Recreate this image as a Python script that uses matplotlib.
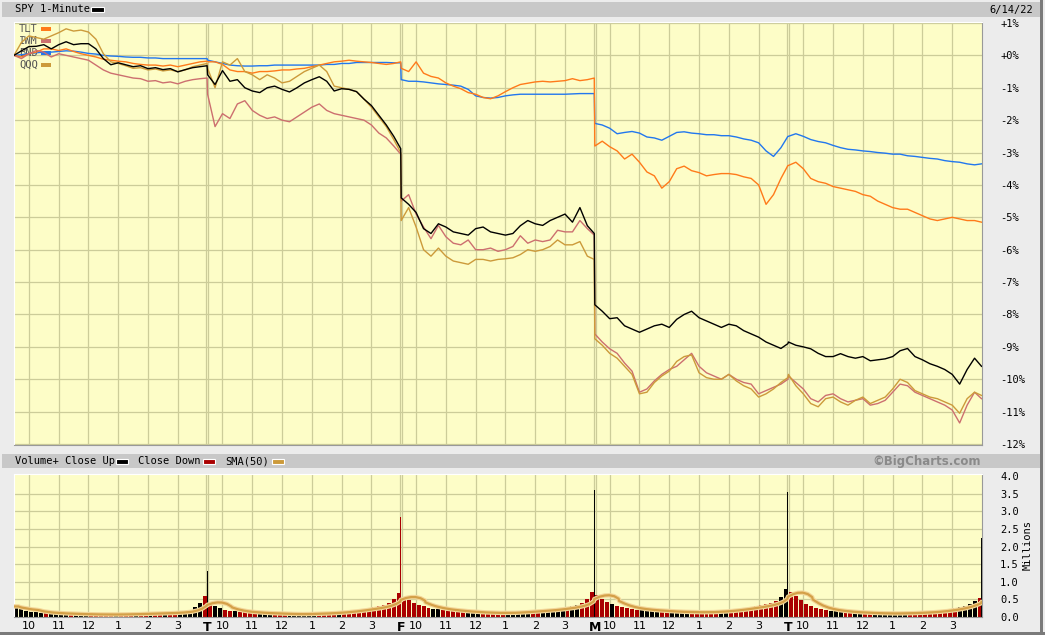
import numpy as np
import pandas as pd
import matplotlib
matplotlib.use("Agg")
import matplotlib.pyplot as plt
from matplotlib.patches import Rectangle

# % change vs first print, sampled every 15 min + last minute of each session
spy = [
    [0.0, 0.14, 0.27, 0.28, 0.33, 0.2, 0.33, 0.42, 0.33, 0.36, 0.36, 0.2, -0.1, -0.29, -0.23, -0.29, -0.35, -0.32, -0.41, -0.38, -0.44, -0.41, -0.51, -0.44, -0.38, -0.35, -0.32],
    [-0.6, -0.9, -0.47, -0.8, -0.75, -1.0, -1.1, -1.15, -1.0, -0.95, -1.05, -1.13, -1.0, -0.85, -0.75, -0.66, -0.8, -1.1, -1.03, -1.05, -1.12, -1.35, -1.55, -1.85, -2.15, -2.5, -2.88],
    [-4.4, -4.6, -4.85, -5.35, -5.5, -5.2, -5.3, -5.45, -5.5, -5.55, -5.35, -5.3, -5.45, -5.5, -5.55, -5.5, -5.26, -5.1, -5.2, -5.25, -5.1, -5.0, -4.9, -5.15, -4.7, -5.26, -5.5],
    [-7.7, -7.9, -8.13, -8.1, -8.35, -8.45, -8.55, -8.45, -8.35, -8.3, -8.4, -8.15, -8.0, -7.9, -8.1, -8.2, -8.3, -8.4, -8.3, -8.35, -8.5, -8.6, -8.7, -8.85, -8.95, -9.05, -8.9],
    [-8.85, -8.95, -9.0, -9.06, -9.2, -9.3, -9.3, -9.21, -9.3, -9.35, -9.3, -9.43, -9.4, -9.37, -9.3, -9.12, -9.05, -9.3, -9.4, -9.52, -9.6, -9.7, -9.85, -10.15, -9.7, -9.35, -9.6],
]
qqq = [
    [0.0, 0.4, 0.6, 0.55, 0.5, 0.6, 0.7, 0.82, 0.75, 0.78, 0.72, 0.5, 0.05, -0.2, -0.25, -0.32, -0.4, -0.38, -0.45, -0.42, -0.48, -0.45, -0.5, -0.45, -0.35, -0.3, -0.25],
    [-0.4, -1.0, -0.2, -0.3, -0.1, -0.5, -0.6, -0.75, -0.6, -0.7, -0.85, -0.8, -0.65, -0.5, -0.4, -0.3, -0.5, -0.95, -1.0, -1.05, -1.12, -1.35, -1.6, -1.9, -2.2, -2.6, -3.0],
    [-5.1, -4.7, -5.3, -6.0, -6.2, -5.95, -6.2, -6.35, -6.4, -6.45, -6.3, -6.3, -6.35, -6.3, -6.28, -6.25, -6.15, -6.0, -6.05, -6.0, -5.9, -5.7, -5.85, -5.85, -5.75, -6.2, -6.3],
    [-8.75, -8.95, -9.2, -9.35, -9.6, -9.85, -10.45, -10.4, -10.1, -9.9, -9.75, -9.45, -9.3, -9.25, -9.8, -9.95, -10.0, -10.0, -9.85, -10.05, -10.2, -10.3, -10.55, -10.45, -10.3, -10.1, -9.95],
    [-9.85, -10.2, -10.45, -10.75, -10.85, -10.6, -10.55, -10.7, -10.8, -10.65, -10.55, -10.75, -10.65, -10.55, -10.3, -10.0, -10.1, -10.35, -10.45, -10.55, -10.6, -10.7, -10.8, -11.05, -10.6, -10.4, -10.5],
]
iwm = [
    [0.0, -0.1, 0.05, 0.15, 0.1, -0.05, 0.05, 0.0, -0.05, -0.1, -0.15, -0.3, -0.45, -0.55, -0.6, -0.65, -0.7, -0.72, -0.8, -0.78, -0.85, -0.82, -0.88, -0.8, -0.75, -0.72, -0.7],
    [-1.2, -2.2, -1.8, -1.95, -1.5, -1.4, -1.7, -1.85, -1.95, -1.9, -2.0, -2.05, -1.9, -1.75, -1.6, -1.5, -1.7, -1.8, -1.85, -1.9, -1.95, -2.0, -2.15, -2.4, -2.55, -2.8, -3.05],
    [-4.5, -4.3, -4.9, -5.3, -5.66, -5.25, -5.6, -5.8, -5.85, -5.7, -6.0, -6.0, -5.95, -6.05, -6.0, -5.9, -5.57, -5.8, -5.7, -5.75, -5.7, -5.4, -5.45, -5.45, -5.1, -5.35, -5.55],
    [-8.6, -8.85, -9.06, -9.2, -9.5, -9.75, -10.4, -10.3, -10.05, -9.85, -9.7, -9.6, -9.4, -9.2, -9.6, -9.8, -9.9, -10.0, -9.85, -10.0, -10.1, -10.15, -10.45, -10.35, -10.25, -10.15, -10.0],
    [-9.9, -10.1, -10.3, -10.6, -10.7, -10.5, -10.45, -10.6, -10.7, -10.65, -10.6, -10.8, -10.75, -10.65, -10.4, -10.15, -10.2, -10.4, -10.5, -10.6, -10.7, -10.8, -10.95, -11.35, -10.8, -10.4, -10.6],
]
tlt = [
    [0.0, -0.05, 0.05, 0.1, 0.2, 0.2, 0.15, 0.2, 0.12, 0.05, 0.0, -0.05, -0.12, -0.15, -0.18, -0.2, -0.25, -0.28, -0.3, -0.3, -0.33, -0.3, -0.35, -0.3, -0.25, -0.2, -0.18],
    [-0.2, -0.2, -0.28, -0.45, -0.5, -0.5, -0.55, -0.5, -0.5, -0.48, -0.45, -0.45, -0.42, -0.4, -0.35, -0.3, -0.25, -0.2, -0.18, -0.15, -0.18, -0.2, -0.22, -0.25, -0.28, -0.25, -0.2],
    [-0.4, -0.5, -0.2, -0.55, -0.65, -0.7, -0.85, -0.95, -1.03, -1.15, -1.2, -1.3, -1.34, -1.25, -1.12, -1.0, -0.9, -0.86, -0.82, -0.8, -0.82, -0.8, -0.78, -0.72, -0.78, -0.75, -0.7],
    [-2.8, -2.65, -2.82, -2.95, -3.2, -3.05, -3.3, -3.6, -3.72, -4.1, -3.9, -3.5, -3.42, -3.56, -3.62, -3.72, -3.68, -3.65, -3.65, -3.68, -3.75, -3.8, -4.0, -4.6, -4.3, -3.8, -3.4],
    [-3.4, -3.3, -3.5, -3.8, -3.9, -3.95, -4.05, -4.1, -4.15, -4.2, -4.3, -4.35, -4.5, -4.6, -4.7, -4.75, -4.75, -4.85, -4.95, -5.05, -5.1, -5.05, -5.0, -5.05, -5.1, -5.1, -5.15],
]
bnd = [
    [0.0, 0.02, 0.05, 0.08, 0.1, 0.1, 0.12, 0.14, 0.13, 0.1, 0.06, 0.04, 0.0, -0.02, -0.03, -0.05, -0.06, -0.06, -0.08, -0.08, -0.1, -0.1, -0.1, -0.1, -0.1, -0.1, -0.1],
    [-0.15, -0.2, -0.25, -0.3, -0.32, -0.33, -0.33, -0.32, -0.32, -0.3, -0.3, -0.3, -0.3, -0.3, -0.3, -0.3, -0.28, -0.28, -0.25, -0.25, -0.22, -0.22, -0.22, -0.22, -0.22, -0.23, -0.23],
    [-0.75, -0.8, -0.8, -0.82, -0.85, -0.88, -0.9, -0.92, -0.95, -1.05, -1.25, -1.3, -1.32, -1.3, -1.25, -1.22, -1.2, -1.2, -1.2, -1.2, -1.2, -1.2, -1.2, -1.19, -1.18, -1.18, -1.18],
    [-2.1, -2.15, -2.25, -2.42, -2.38, -2.35, -2.4, -2.52, -2.55, -2.62, -2.5, -2.38, -2.36, -2.4, -2.42, -2.45, -2.45, -2.48, -2.48, -2.52, -2.58, -2.62, -2.7, -2.95, -3.12, -2.85, -2.5],
    [-2.5, -2.42, -2.5, -2.6, -2.66, -2.7, -2.78, -2.85, -2.9, -2.92, -2.95, -2.97, -3.0, -3.02, -3.05, -3.05, -3.1, -3.12, -3.15, -3.18, -3.2, -3.25, -3.28, -3.3, -3.35, -3.38, -3.35],
]

# volume (millions per minute), 10-minute buckets, plus the closing print
vol = [
    [0.30, 0.22, 0.18, 0.15, 0.14, 0.12, 0.12, 0.10, 0.10, 0.09, 0.09, 0.08, 0.08, 0.08, 0.07, 0.07, 0.07, 0.07, 0.07, 0.07,
     0.07, 0.08, 0.08, 0.08, 0.09, 0.09, 0.10, 0.10, 0.10, 0.11, 0.12, 0.12, 0.13, 0.14, 0.16, 0.20, 0.28, 0.40, 0.60],
    [0.40, 0.32, 0.26, 0.21, 0.18, 0.16, 0.15, 0.13, 0.12, 0.12, 0.11, 0.10, 0.10, 0.09, 0.09, 0.08, 0.08, 0.08, 0.08, 0.09,
     0.09, 0.10, 0.10, 0.11, 0.12, 0.13, 0.14, 0.15, 0.17, 0.19, 0.21, 0.23, 0.25, 0.27, 0.30, 0.34, 0.40, 0.50, 0.68],
    [0.55, 0.48, 0.40, 0.34, 0.30, 0.26, 0.24, 0.22, 0.20, 0.18, 0.17, 0.16, 0.15, 0.14, 0.13, 0.12, 0.12, 0.12, 0.11, 0.11,
     0.12, 0.12, 0.13, 0.14, 0.15, 0.16, 0.17, 0.18, 0.19, 0.20, 0.22, 0.24, 0.26, 0.28, 0.30, 0.34, 0.40, 0.50, 0.72],
    [0.62, 0.52, 0.44, 0.37, 0.32, 0.28, 0.25, 0.23, 0.21, 0.20, 0.19, 0.18, 0.17, 0.16, 0.15, 0.15, 0.14, 0.14, 0.14, 0.13,
     0.13, 0.14, 0.14, 0.15, 0.16, 0.17, 0.18, 0.20, 0.22, 0.24, 0.26, 0.28, 0.30, 0.33, 0.36, 0.40, 0.46, 0.58, 0.80],
    [0.72, 0.60, 0.48, 0.38, 0.31, 0.26, 0.22, 0.20, 0.18, 0.16, 0.15, 0.14, 0.13, 0.12, 0.12, 0.11, 0.11, 0.10, 0.10, 0.10,
     0.10, 0.10, 0.11, 0.11, 0.12, 0.12, 0.13, 0.14, 0.15, 0.16, 0.18, 0.20, 0.22, 0.25, 0.28, 0.32, 0.38, 0.45, 0.55],
]
close_vol = [1.3, 2.85, 3.6, 3.55, 2.25]
close_up = [True, False, True, True, True]

day_letters = ["", "T", "F", "M", "T"]
hour_labels = ["10", "11", "12", "1", "2", "3"]
pct_levels = list(range(1, -13, -1))
pct_labels = ["+1%", "+0%"] + ["%d%%" % v for v in range(-1, -13, -1)]

W, H = 1045, 635
GRID = "#cccc99"
BG = "#fdfdc7"
MONO = "DejaVu Sans Mono"


def fx(x):
    return x / W


def fy(y):
    return 1 - y / H


fig = plt.figure(figsize=(W / 100, H / 100), dpi=100, facecolor="#ececec")

# header bands
for y0, y1 in [(2, 17), (454, 468)]:
    fig.patches.append(Rectangle((fx(2), fy(y1)), fx(1038), (y1 - y0) / H, transform=fig.transFigure,
                                 facecolor="#c8c8c8", edgecolor="none", zorder=0))
fig.patches.append(Rectangle((fx(1040), 0), fx(3), 1, transform=fig.transFigure, facecolor="#7a7a7a", zorder=0))
fig.patches.append(Rectangle((0, 0), 1, 3 / H, transform=fig.transFigure, facecolor="#7a7a7a", zorder=0))

ax = fig.add_axes([fx(14), fy(445), fx(968), 423 / H])
vax = fig.add_axes([fx(14), fy(617), fx(968), 143 / H], sharex=ax)

offs = np.r_[np.arange(0, 390, 15), 389]
t = np.concatenate([390 * d + offs for d in range(5)])

hours = [390 * d + 30 + 60 * k for d in range(5) for k in range(6)]
bounds = [390 * d for d in range(1, 5)]

for a in (ax, vax):
    a.set_facecolor(BG)
    for x in hours:
        a.axvline(x, color=GRID, lw=0.9, zorder=0.5)
    for x in bounds:
        a.axvline(x - 2.5, color=GRID, lw=0.9, zorder=0.5)
        a.axvline(x + 1.5, color=GRID, lw=0.9, zorder=0.5)
    for s in ("top", "left"):
        a.spines[s].set_color("white")
    for s in ("right", "bottom"):
        a.spines[s].set_color("#999999")
    a.yaxis.tick_right()

for v in pct_levels:
    ax.axhline(v, color=GRID, lw=0.9, zorder=0.5)

series = [(bnd, "#2277ee"), (tlt, "#ff7a1a"), (iwm, "#cc6f6f"), (qqq, "#cc9a3a"), (spy, "#000000")]
for vals, col in series:
    ax.plot(t, np.array(vals).ravel(), color=col, lw=1.0, zorder=3)

ax.set_xlim(0, 1950)
ax.set_ylim(-12.03, 1.03)
ax.set_yticks(pct_levels)
ax.set_yticklabels(pct_labels, family=MONO, fontsize=7.5)
ax.tick_params(axis="y", length=0, pad=13)
ax.tick_params(axis="x", length=0, labelbottom=False)

# in-chart legend (drawn under the lines)
for i, (name, col) in enumerate([("TLT", "#ff7a1a"), ("IWM", "#cc6f6f"), ("BND", "#2277ee"), ("QQQ", "#cc9a3a")]):
    yy = (445 - (29 + 12 * i)) / 423
    ax.text(5 / 968, yy, name, transform=ax.transAxes, family=MONO, fontsize=7.5, color="#555555",
            va="center", ha="left", zorder=1)
    ax.add_patch(Rectangle((27 / 968, yy - 2 / 423), 10 / 968, 4 / 423, transform=ax.transAxes,
                           facecolor=col, edgecolor="none", zorder=1))

# volume panel
spy_flat = np.array(spy).ravel()
vt = np.concatenate([390 * d + np.arange(5, 390, 10) for d in range(5)])
vv = np.array(vol).ravel()
up = np.interp(vt + 5, t, spy_flat) >= np.interp(vt - 5, t, spy_flat)
vax.bar(vt, vv, width=8, color=np.where(up, "#000000", "#aa0000"), zorder=2)
ct = [390 * d + 389 for d in range(5)]
vax.bar(ct, close_vol, width=2, color=["#000000" if u else "#aa0000" for u in close_up], zorder=2)

per_min = np.repeat(vv, 10)
per_min[ct] = close_vol
sma = pd.Series(per_min).rolling(50, min_periods=1).mean()
vax.plot(np.arange(len(per_min)), sma, color="#f3d79a", lw=3.2, zorder=3, solid_capstyle="round")
vax.plot(np.arange(len(per_min)), sma, color="#d4a048", lw=1.6, zorder=4)

for v in np.arange(0.5, 4.0, 0.5):
    vax.axhline(v, color=GRID, lw=0.9, zorder=0.5)
vax.set_ylim(0, 4.06)
vax.set_yticks(np.arange(0, 4.01, 0.5))
vax.set_yticklabels(["%.1f" % v for v in np.arange(0, 4.01, 0.5)], family=MONO, fontsize=7.5)
vax.tick_params(axis="y", length=0, pad=13)

xt, xl = [], []
for d in range(5):
    if day_letters[d]:
        xt.append(390 * d)
        xl.append(day_letters[d])
    for k in range(6):
        xt.append(390 * d + 30 + 60 * k)
        xl.append(hour_labels[k])
vax.set_xticks(xt)
vax.set_xticklabels(xl, fontsize=8)
for lab in vax.get_xticklabels():
    if lab.get_text() in ("T", "F", "M"):
        lab.set_fontweight("bold")
        lab.set_fontsize(9)
vax.tick_params(axis="x", length=0, pad=3)
vax.set_xlim(0, 1950)

fig.text(fx(1028), fy(545), "Millions", rotation=90, family=MONO, fontsize=7.5, ha="center", va="center")

# header texts
fig.text(fx(15), fy(9.5), "SPY 1-Minute", family=MONO, fontsize=7.5, va="center", ha="left")
fig.patches.append(Rectangle((fx(91), fy(12)), fx(13), 5 / H, transform=fig.transFigure,
                             facecolor="black", edgecolor="white", lw=0.8))
fig.text(fx(1033), fy(9.5), "6/14/22", family=MONO, fontsize=7.5, va="center", ha="right")

fig.text(fx(15), fy(461), "Volume+ Close Up", family=MONO, fontsize=7.5, va="center", ha="left")
fig.text(fx(138), fy(461), "Close Down", family=MONO, fontsize=7.5, va="center", ha="left")
fig.text(fx(225), fy(461), "SMA(50)", family=MONO, fontsize=7.5, va="center", ha="left")
for x0, col in [(116, "black"), (203, "#aa0000"), (272, "#cc9a3a")]:
    fig.patches.append(Rectangle((fx(x0), fy(463.5)), fx(12), 5 / H, transform=fig.transFigure,
                                 facecolor=col, edgecolor="white", lw=0.8))
fig.text(fx(981), fy(461), "\u00a9BigCharts.com", fontsize=8.5, fontweight="bold", color="#8a8a8a",
         va="center", ha="right")

fig.savefig("out.png", dpi=100, facecolor=fig.get_facecolor())
